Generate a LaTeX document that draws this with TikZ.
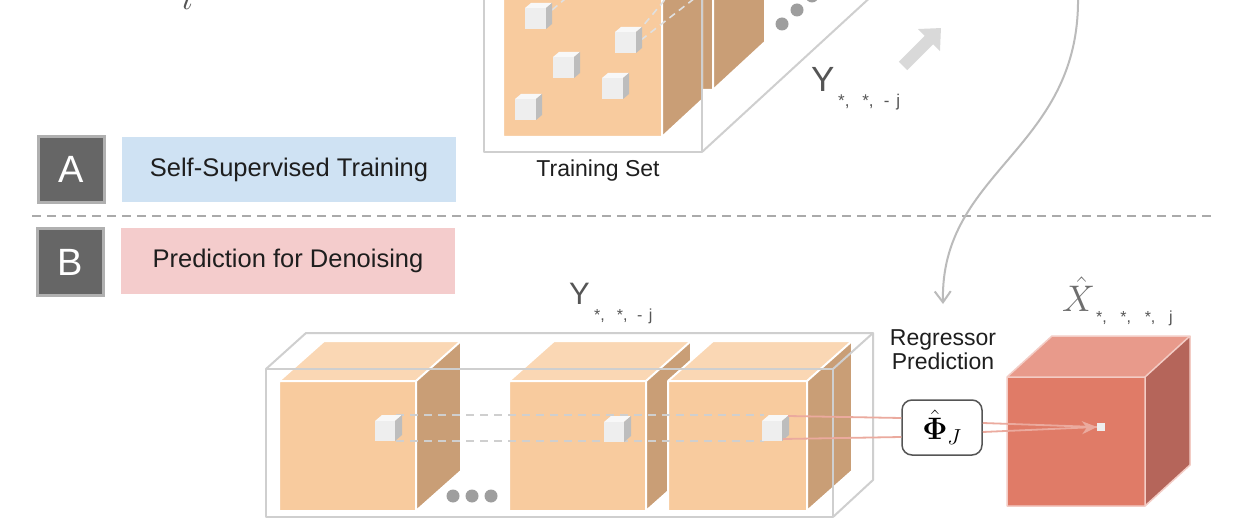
\RequirePackage{fix-cm}
\documentclass[tikz,border=0pt]{standalone}
\usepackage{amsmath}
\usepackage[no-math]{fontspec}
\newfontfamily\arial{Liberation Sans}
\usetikzlibrary{arrows.meta}
\definecolor{orfront}{HTML}{F8CB9E}
\definecolor{ortop}{HTML}{FAD7B4}
\definecolor{orside}{HTML}{C99E76}
\definecolor{ortfront}{HTML}{C99E76}
\definecolor{orttop}{HTML}{FAD7B4}
\definecolor{ortside}{HTML}{C99E76}
\definecolor{rdfront}{HTML}{E07B67}
\definecolor{rdtop}{HTML}{E89A8B}
\definecolor{rdside}{HTML}{B5655A}
\definecolor{whfront}{HTML}{EEEEEE}
\definecolor{whtop}{HTML}{F8F8F8}
\definecolor{whside}{HTML}{BDBDBD}
\definecolor{boxgrey}{HTML}{CFCFCF}
\definecolor{sqfill}{HTML}{666666}
\definecolor{sqborder}{HTML}{B0B0B0}
\definecolor{bandblue}{HTML}{CFE2F3}
\definecolor{bandpink}{HTML}{F4CCCC}
\definecolor{pinkline}{HTML}{EBAA9E}
\definecolor{labgrey}{HTML}{555555}
\definecolor{dotgrey}{HTML}{9E9E9E}
\definecolor{arrgrey}{HTML}{BBBBBB}
\definecolor{blockgrey}{HTML}{D9D9D9}
\definecolor{divgrey}{HTML}{AAAAAA}
\definecolor{textdark}{HTML}{1E1E1E}

% x, y (front top-left), w, h, dx, dy, colour prefix
\newcommand\bcube[7]{%
  \fill[#7top] (#1,#2) -- ++(#5,-#6) -- ++(#3,0) -- ++(-#5,#6) -- cycle;
  \fill[#7side] ({#1+#3},#2) -- ++(#5,-#6) -- ++(0,#4) -- ++(-#5,#6) -- cycle;
  \fill[#7front] (#1,#2) rectangle ++(#3,#4);
  \draw[#7edge] (#1,#2) rectangle ++(#3,#4)
    (#1,#2) -- ++(#5,-#6) -- ++(#3,0) -- ++(-#5,#6)
    ({#1+#3+#5},{#2-#6}) -- ++(0,#4) -- ++(-#5,#6);
}
\newcommand\subsy{*,\hspace{0.75em}*,\hspace{0.6em}-\hspace{0.4em}j}
\newcommand\subsx{*,\hspace{0.85em}*,\hspace{0.85em}*,\hspace{0.85em}j}

\tikzset{
  oredge/.style={draw=white,line width=2pt,line join=round},
  ortedge/.style={oredge},
  rdedge/.style={draw=rdtop!50!white,line width=1.5pt,line join=round},
  whedge/.style={draw=none},
  sqbox/.style={fill=sqfill,draw=sqborder,line width=3pt,minimum size=66pt,
    inner sep=0pt,text=white,font=\arial\fontsize{38}{40}\selectfont},
  band/.style={minimum width=334pt,minimum height=65pt,inner sep=0pt,
    text=textdark,font=\arial\fontsize{25.5}{30}\selectfont},
  lbltext/.style={text=textdark,inner sep=0pt,font=\arial\fontsize{23}{24}\selectfont},
  ylab/.style={anchor=base west,inner sep=0pt,text=labgrey},
  boxl/.style={draw=boxgrey,line width=2pt,line join=round},
  pinkl/.style={draw=pinkline,line width=1.8pt},
  curvarr/.style={draw=arrgrey,line width=2pt,-{Straight Barb[length=11pt,width=16pt,line width=2pt]}},
  divider/.style={draw=divgrey,line width=2pt,dash pattern=on 9pt off 6pt},
  dashl/.style={draw=boxgrey,line width=2pt,dash pattern=on 8pt off 6pt},
  dashw/.style={draw=white!88!black,line width=1.6pt,dash pattern=on 7pt off 5pt},
  dotc/.style={fill=dotgrey},
}

\begin{document}
\begin{tikzpicture}[x=1pt,y=-1pt]
\useasboundingbox (0,0) rectangle (1255,529);
\fill[white] (0,0) rectangle (1255,529);
\clip (0,0) rectangle (1255,529);

% ---------- top-left cut glyph ----------
\node[anchor=base west,inner sep=0pt,text=labgrey,font=\fontsize{36}{40}\selectfont] (itop) at (181,10) {$i$};

% ---------- training set (top) ----------
\bcube{554}{-72}{159}{162}{52}{48}{ort}
\bcube{503}{-25}{159}{162}{40}{37}{or}
\draw[dashw] (552,10) -- (578,-12);
\draw[dashw] (637,33) -- (668,-4);
\draw[dashw] (641,40) -- (695,-2);
\bcube{525}{8}{21}{21}{6}{5}{wh}
\bcube{615}{32}{21}{21}{6}{5}{wh}
\bcube{553}{57}{21}{21}{6}{5}{wh}
\bcube{602}{78}{21}{21}{6}{5}{wh}
\bcube{515}{99}{21}{21}{6}{5}{wh}
\draw[boxl] (484,-5) -- (484,152) -- (702,152) -- (702,-5);
\draw[boxl] (702,152) -- (875,-7);
\fill[dotc] (782,24) circle (6.5pt);
\fill[dotc] (797,10) circle (6.5pt);
\fill[dotc] (812,-4) circle (6.5pt);
\node[lbltext] (tset) at (598,171) {Training Set};
\node[ylab,font=\arial\fontsize{35}{38}\selectfont] (ytop) at (811,92) {Y};
\node[ylab,font=\arial\fontsize{17}{18}\selectfont] (ytopsub) at (838,107) {\subsy};
\coordinate (ba) at (903,66);
\coordinate (bb) at (941,28);
\draw[draw=blockgrey,line width=12pt,-{Triangle[length=17pt,width=30pt]}] (ba) -- (bb);

% ---------- section labels ----------
\node[sqbox] (sqA) at (71.5,169.5) {A};
\node[band,fill=bandblue] (bandA) at (289,169.5) {Self-Supervised Training};
\coordinate (dl) at (32,216.5);
\coordinate (dr) at (1215,216.5);
\draw[divider] (dl) -- (dr);
\node[sqbox] (sqB) at (70.5,262) {B};
\node[band,fill=bandpink] (bandB) at (288,261) {Prediction for Denoising};

% ---------- bottom volume ----------
\bcube{279}{381}{137}{130}{45}{40}{or}
\bcube{509}{381}{137}{130}{45}{40}{or}
\bcube{668}{381}{139}{130}{45}{40}{or}
\coordinate (d1a) at (396,415);
\coordinate (d1b) at (396,441);
\coordinate (d3a) at (764,415);
\coordinate (d3b) at (764,441);
\draw[dashl] (d1a) -- (d3a);
\draw[dashl] (d1b) -- (d3b);
\bcube{375}{421}{20}{20}{7}{6}{wh}
\bcube{604}{422}{20}{20}{7}{6}{wh}
\bcube{762}{421}{20}{20}{7}{6}{wh}
\draw[boxl] (266,369) rectangle (833,517);
\draw[boxl] (266,369) -- (306,333) -- (873,333) -- (873,480) -- (833,517);
\draw[boxl] (833,369) -- (873,333);
\fill[dotc] (453,496) circle (6.5pt);
\fill[dotc] (472,496) circle (6.5pt);
\fill[dotc] (491,496) circle (6.5pt);
\node[ylab,font=\arial\fontsize{31}{34}\selectfont] (ybot) at (569,305) {Y};
\node[ylab,font=\arial\fontsize{16}{18}\selectfont] (ybotsub) at (594,320) {\subsy};

% ---------- regressor ----------
\node[lbltext,align=center] (reg) at (943,350) {Regressor\\Prediction};
\node[draw=labgrey,line width=1.5pt,rounded corners=10pt,fill=white,
      minimum width=80pt,minimum height=55pt,inner sep=0pt,
      font=\fontsize{31}{33}\selectfont] (phi) at (942,427.5) {$\hat{\mathbf{\Phi}}_{J}$};

% ---------- output cube ----------
\bcube{1007}{377}{138}{129}{45}{41}{rd}
\node[ylab,text=labgrey!85!white,font=\fontsize{37}{40}\selectfont] (xhat) at (1062,312) {$\hat{X}$};
\node[ylab,text=labgrey,font=\arial\fontsize{16}{18}\selectfont] (xhatsub) at (1096,322) {\subsx};

% ---------- connectors ----------
\coordinate (s3a) at (788,416);
\coordinate (s3b) at (783,439);
\coordinate (tgt) at (1097,427);
\draw[pinkl] (s3a) -- ([yshift=9.5pt]phi.west);
\draw[pinkl] (s3b) -- ([yshift=-9.5pt]phi.west);
\draw[pinkl] ([yshift=4.5pt]phi.east) -- (tgt);
\draw[pinkl,-{Stealth[length=15pt,width=13pt]}] ([yshift=-4.5pt]phi.east) -- (tgt);
\fill[whfront] (1097,423) rectangle (1105,431);

\coordinate (ctop) at (1078,-3);
\coordinate (aend) at (943,304);
\draw[curvarr] (ctop) .. controls (1080,150) and (940,170) .. (aend);
\end{tikzpicture}
\end{document}
